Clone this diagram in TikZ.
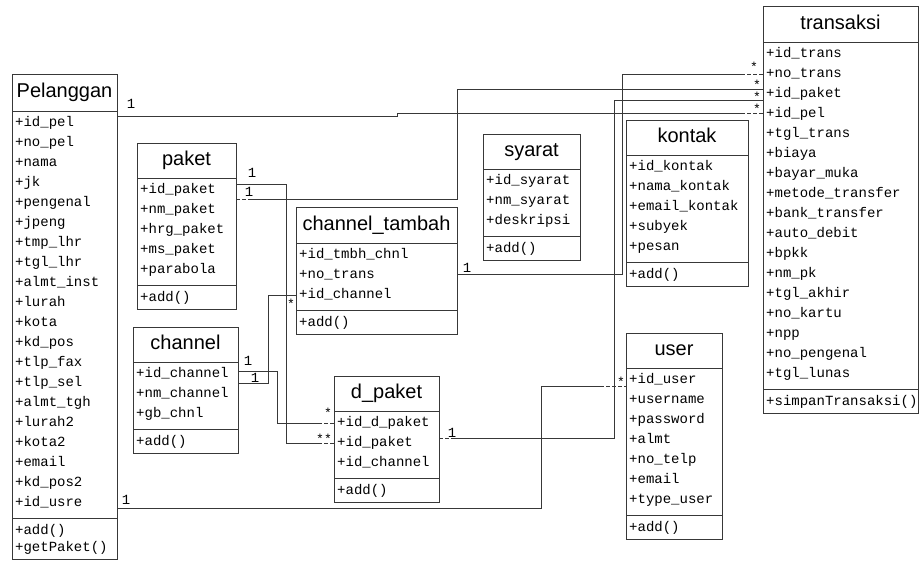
\documentclass[tikz,border=0pt]{standalone}
\usepackage{fontspec}
\setmainfont{Liberation Sans}
\newfontfamily\monof{Liberation Mono}
\usetikzlibrary{calc}
\tikzset{
  box/.style={draw=black!78, line width=0.9pt, anchor=north west, inner sep=0pt, outer sep=0pt},
  ttl/.style={box, font=\fontsize{20}{24}\selectfont, text height=14.5pt, text depth=4pt},
  rowtxt/.style={anchor=west, inner sep=0pt, text height=10pt, text depth=3pt, font=\monof\fontsize{14}{16}\selectfont},
  conn/.style={draw=black!78, line width=0.9pt},
  dsh/.style={conn, dash pattern=on 4pt off 2pt},
  mult/.style={inner sep=0pt, text height=10pt, text depth=0pt, font=\monof\fontsize{14}{16}\selectfont},
  star/.style={inner sep=0pt, font=\monof\fontsize{13}{14}\selectfont},
}
\def\titleh{35}
\newcommand\umlclass[9]{%
  \pgfmathsetmacro\attrh{20*#6+7}%
  \pgfmathsetmacro\opsh{17*#8+7}%
  \node[ttl, minimum width=#4pt, minimum height=\titleh pt] (#1) at (#2,#3) {#5};
  \node[box, minimum width=#4pt, minimum height=\attrh pt] (#1-a) at (#1.south west) {};
  \node[box, minimum width=#4pt, minimum height=\opsh pt] (#1-o) at (#1-a.south west) {};
  \foreach \itm [count=\i] in {#7} {\node[rowtxt] (#1-\i) at ($(#1-a.north west)+(3,{20*\i-8})$) {\itm};}
  \foreach \itm [count=\i] in {#9} {\node[rowtxt] (#1-o\i) at ($(#1-o.north west)+(3,{17*\i-4.5})$) {\itm};}
}
\begin{document}
\begin{tikzpicture}[x=1pt, y=-1pt]
\fill[white] (0,0) rectangle (919,560);
\useasboundingbox (0,0) rectangle (919,560);

\def\titleh{37}
\umlclass{pel}{12}{74}{105}{Pelanggan}{20}{+id\_pel,+no\_pel,+nama,+jk,+pengenal,+jpeng,+tmp\_lhr,+tgl\_lhr,+almt\_inst,+lurah,+kota,+kd\_pos,+tlp\_fax,+tlp\_sel,+almt\_tgh,+lurah2,+kota2,+email,+kd\_pos2,+id\_usre}{2}{+add(),+getPaket()}

\def\titleh{35}
\umlclass{pk}{137}{143}{99}{paket}{5}{+id\_paket,+nm\_paket,+hrg\_paket,+ms\_paket,+parabola}{1}{+add()}

\def\titleh{36}
\umlclass{ct}{296}{207}{161}{channel\_tambah}{3}{+id\_tmbh\_chnl,+no\_trans,+id\_channel}{1}{+add()}

\def\titleh{35}
\umlclass{ch}{133}{327}{105}{channel}{3}{+id\_channel,+nm\_channel,+gb\_chnl}{1}{+add()}
\umlclass{dp}{334}{376}{105}{d\_paket}{3}{+id\_d\_paket,+id\_paket,+id\_channel}{1}{+add()}
\umlclass{sy}{483}{134}{97}{syarat}{3}{+id\_syarat,+nm\_syarat,+deskripsi}{1}{+add()}
\umlclass{ko}{626}{120}{122}{kontak}{5}{+id\_kontak,+nama\_kontak,+email\_kontak,+subyek,+pesan}{1}{+add()}
\umlclass{us}{626}{333}{96}{user}{7}{+id\_user,+username,+password,+almt,+no\_telp,+email,+type\_user}{1}{+add()}

\def\titleh{36}
\umlclass{tr}{763}{6}{155}{transaksi}{17}{+id\_trans,+no\_trans,+id\_paket,+id\_pel,+tgl\_trans,+biaya,+bayar\_muka,+metode\_transfer,+bank\_transfer,+auto\_debit,+bpkk,+nm\_pk,+tgl\_akhir,+no\_kartu,+npp,+no\_pengenal,+tgl\_lunas}{1}{+simpanTransaksi()}

% connector end points
\coordinate (c1a) at ($(pel-1.west -| pel-a.east)+(0,-7)$);
\coordinate (c1b) at ($(tr-4.west -| tr-a.west)+(0,-1)$);
\coordinate (c2a) at ($(pel-20.west -| pel-a.east)+(0,5)$);
\coordinate (c2b) at ($(us-1.west -| us-a.west)+(0,6)$);
\coordinate (c3a) at ($(pk-1.west -| pk-a.east)+(0,-6)$);
\coordinate (c3b) at (dp-2.west -| dp-a.west);
\coordinate (c4a) at ($(pk-1.west -| pk-a.east)+(0,9)$);
\coordinate (c4b) at ($(tr-3.west -| tr-a.west)+(0,-5)$);
\coordinate (c5a) at ($(ch-1.west -| ch-a.east)+(0,-3)$);
\coordinate (c5b) at (dp-1.west -| dp-a.west);
\coordinate (c6a) at ($(ch-1.west -| ch-a.east)+(0,9)$);
\coordinate (c6b) at (ct-3.west -| ct-a.west);
\coordinate (c7a) at ($(ct-2.west -| ct-a.east)+(0,-1)$);
\coordinate (c7b) at (tr-2.west -| tr-a.west);
\coordinate (c8a) at ($(dp-2.west -| dp-a.east)+(0,-5)$);
\coordinate (c8b) at ($(tr-3.west -| tr-a.west)+(0,6)$);

% Pelanggan -> transaksi.id_pel
\draw[conn] (c1a) -- ++(280,0) |- ($(c1b)+(-22,0)$);
\draw[dsh] ($(c1b)+(-22,0)$) -- (c1b);
\node[mult] (m1a) at ($(c1a)+(14,-13)$) {1};
\node[star] (m1b) at ($(c1b)+(-6,-4)$) {*};

% Pelanggan.id_usre -> user.id_user
\draw[conn] (c2a) -| ($(c2b)+(-85,0)$) -- ($(c2b)+(-26,0)$);
\draw[dsh] ($(c2b)+(-26,0)$) -- (c2b);
\node[mult] (m2a) at ($(c2a)+(9,-9)$) {1};
\node[star] (m2b) at ($(c2b)+(-5,-4)$) {*};

% paket.id_paket -> d_paket.id_paket
\draw[conn] (c3a) -- ++(50,0) |- ($(c3b)+(-16,0)$);
\draw[dsh] ($(c3b)+(-16,0)$) -- (c3b);
\node[mult] (m3a) at ($(c3a)+(16,-12)$) {1};
\node[star] (m3b) at ($(c3b)+(-10,-4)$) {**};

% paket -> transaksi.id_paket
\draw[dsh] (c4a) -- ++(16,0);
\draw[conn] ($(c4a)+(16,0)$) -- ($(c4a)+(221,0)$) |- (c4b);
\node[mult] (m4a) at ($(c4a)+(13,-8)$) {1};
\node[star] (m4b) at ($(c4b)+(-6,-4)$) {*};

% channel -> d_paket.id_d_paket
\draw[conn] (c5a) -- ++(39,0) |- ($(c5b)+(-16,0)$);
\draw[dsh] ($(c5b)+(-16,0)$) -- (c5b);
\node[mult] (m5a) at ($(c5a)+(10,-11)$) {1};
\node[star] (m5b) at ($(c5b)+(-6,-10)$) {*};

% channel -> channel_tambah.id_channel
\draw[conn] (c6a) -- ++(30,0) |- (c6b);
\node[mult] (m6a) at ($(c6a)+(17,-6)$) {1};
\node[star] (m6b) at ($(c6b)+(-5,9)$) {*};

% channel_tambah.no_trans -> transaksi.no_trans
\draw[conn] (c7a) -- ++(165,0) |- ($(c7b)+(-22,0)$);
\draw[dsh] ($(c7b)+(-22,0)$) -- (c7b);
\node[mult] (m7a) at ($(c7a)+(10,-7)$) {1};
\node[star] (m7b) at ($(c7b)+(-9,-7)$) {*};

% d_paket -> transaksi.id_paket
\draw[dsh] (c8a) -- ++(16,0);
\draw[conn] ($(c8a)+(16,0)$) -- ($(c8a)+(175,0)$) |- (c8b);
\node[mult] (m8a) at ($(c8a)+(13,-6)$) {1};
\node[star] (m8b) at ($(c8b)+(-6,-3)$) {*};
\end{tikzpicture}
\end{document}
